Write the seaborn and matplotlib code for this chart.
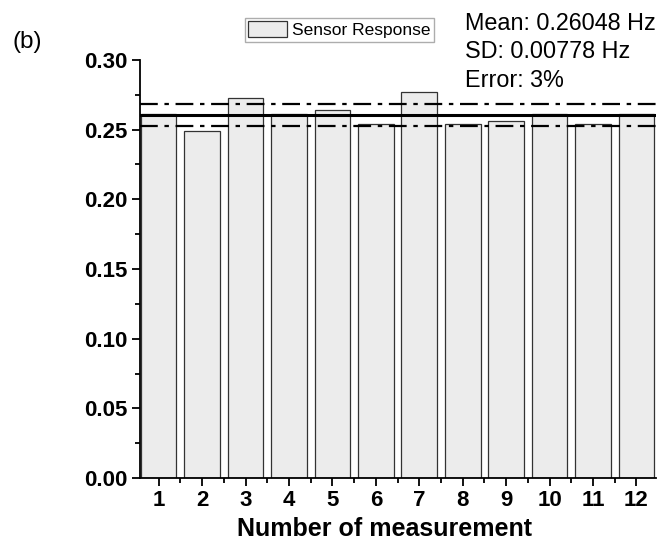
import matplotlib
matplotlib.use("Agg")
import matplotlib.pyplot as plt
import seaborn as sns
import pandas as pd
import numpy as np
from matplotlib.patches import Patch
from matplotlib.ticker import MultipleLocator, AutoMinorLocator, FixedLocator

sns.set_theme(style="ticks")
plt.rcParams['font.family'] = ['Liberation Sans', 'DejaVu Sans']
plt.rcParams.update({"text.color": "black", "axes.labelcolor": "black",
                     "xtick.color": "black", "ytick.color": "black"})

# Measured sensor response per run (Hz)
measurements = list(range(1, 13))
response = [0.261, 0.249, 0.273, 0.261, 0.264, 0.254, 0.277, 0.254, 0.256, 0.261, 0.254, 0.261]
mean_val = 0.26048
sd_val = 0.00778
error_pct = 3

df = pd.DataFrame({"run": [str(m) for m in measurements], "response": response})

W, H = 664, 545
fig = plt.figure(figsize=(W / 100, H / 100), dpi=100)
ax = fig.add_axes([140 / W, 1 - 478 / H, 516 / W, (478 - 60) / H])

sns.barplot(data=df, x="run", y="response", ax=ax, color="#ececec",
            edgecolor="#333333", linewidth=0.9, width=0.82, saturation=1)

ax.axhline(mean_val, color="black", lw=2.2, zorder=5)
for v in (mean_val + sd_val, mean_val - sd_val):
    ax.axhline(v, color="black", lw=1.6, zorder=5, dashes=(8, 3, 2, 3))

ax.set_xlim(-0.43, 11.45)
ax.set_ylim(0, 0.30)
ax.yaxis.set_major_locator(MultipleLocator(0.05))
ax.yaxis.set_minor_locator(AutoMinorLocator(2))
ax.xaxis.set_minor_locator(FixedLocator(np.arange(-0.5, 12, 1.0)))
ax.tick_params(axis="both", which="major", direction="out", length=6, width=1.3,
               color="black", labelcolor="black", labelsize=16, pad=3)
ax.tick_params(axis="both", which="minor", direction="out", length=3.5, width=1.3, color="black")
ax.set_yticklabels([f"{t:.2f}" for t in ax.get_yticks()], fontweight="bold")
ax.set_xticklabels([str(m) for m in measurements], fontweight="bold")

for s in ("top", "right"):
    ax.spines[s].set_visible(False)
for s in ("left", "bottom"):
    ax.spines[s].set_color("black")
    ax.spines[s].set_linewidth(1.3)

ax.set_xlabel("Number of measurement", fontsize=18, fontweight="bold", color="black")
ax.xaxis.set_label_coords(0.473, -0.094)
ax.set_ylabel("")

handle = Patch(facecolor="#ececec", edgecolor="#333333", linewidth=0.9)
fig.legend([handle], ["Sensor Response"], loc="upper left",
           bbox_to_anchor=(245 / W, 1 - 18 / H), fontsize=12.5,
           frameon=True, fancybox=False, edgecolor="#999999",
           handlelength=2.2, handleheight=1.0, borderpad=0.2, handletextpad=0.3,
           borderaxespad=0, labelcolor="black")

stats_lines = [f"Mean: {mean_val:.5f} Hz", f"SD: {sd_val:.5f} Hz", f"Error: {error_pct}%"]
for line, base in zip(stats_lines, (30, 58, 87)):
    fig.text(465 / W, 1 - base / H, line, ha="left", va="baseline", fontsize=16.8, color="black")
fig.text(12 / W, 1 - 48 / H, "(b)", ha="left", va="baseline", fontsize=17.5, color="black")

fig.savefig("out.png", dpi=100)
